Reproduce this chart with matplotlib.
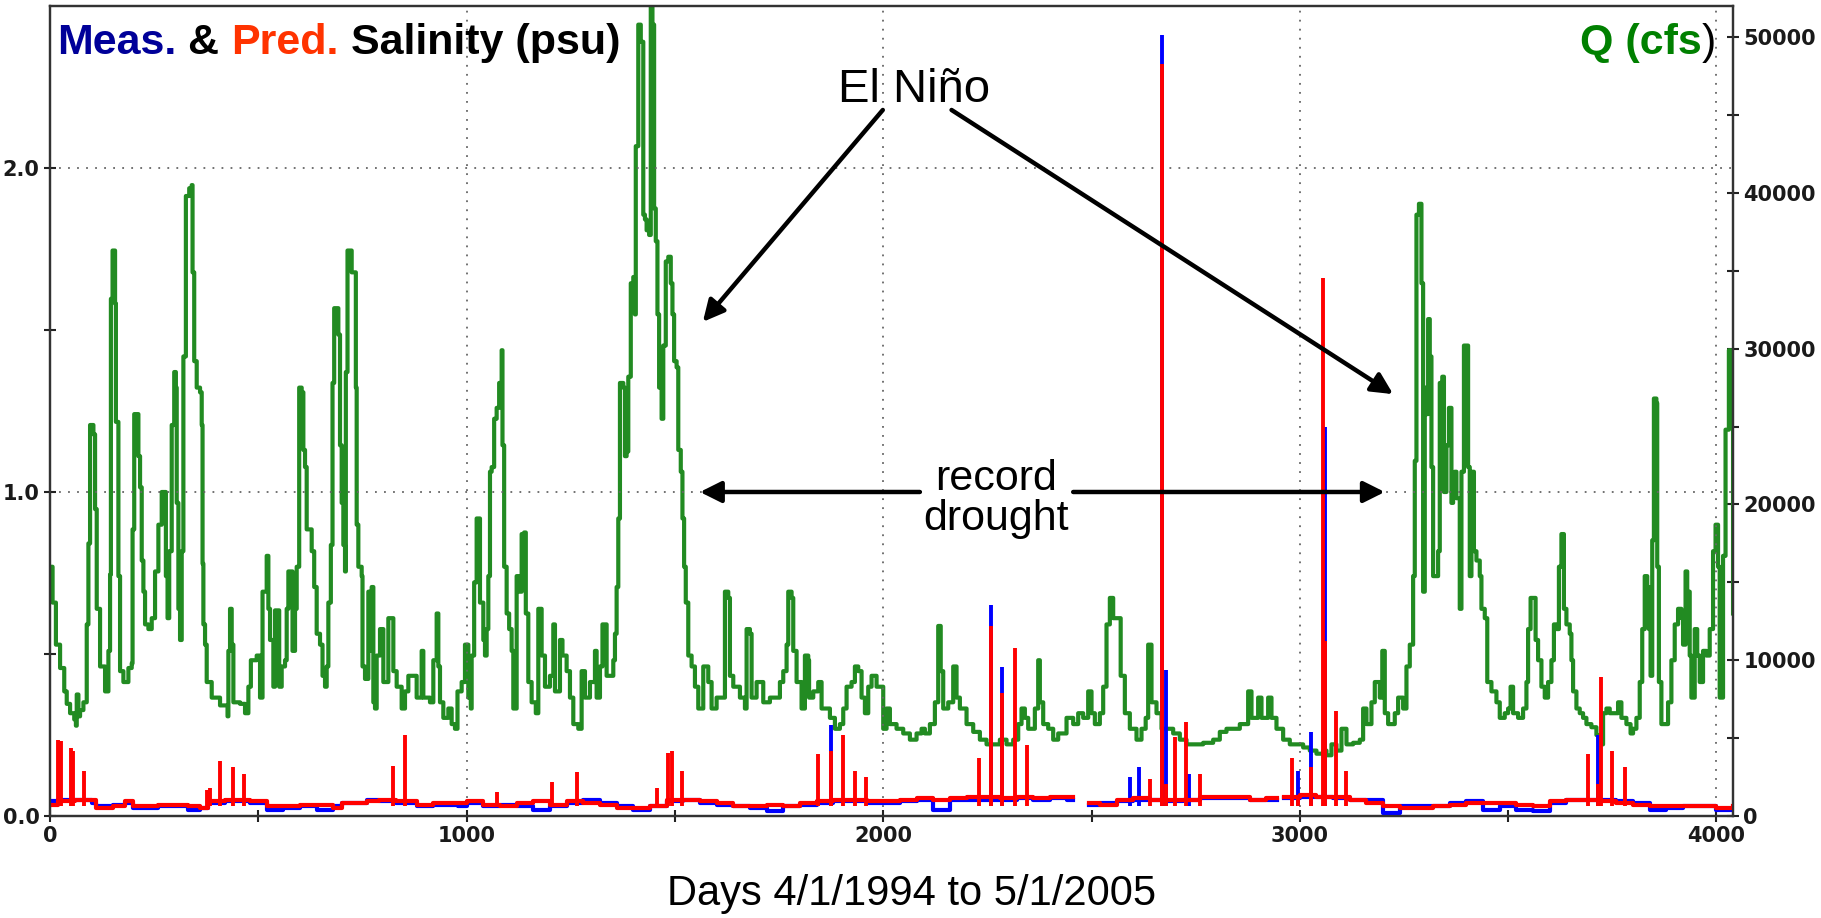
import matplotlib
matplotlib.use("Agg")
import matplotlib.pyplot as plt
import numpy as np
from matplotlib.ticker import MultipleLocator, FixedLocator, FixedFormatter

# River flow Q (day, thousands of cfs)
q_days = [0, 2, 6, 14, 24, 34, 40, 48, 58, 62, 64, 68, 72, 80, 86, 88, 92, 96, 104, 108,
          112, 120, 132, 140, 144, 146, 150, 156, 158, 164, 168, 176, 188, 196, 198, 202, 210, 212, 216, 220,
          224, 228, 236, 244, 252, 260, 268, 276, 278, 282, 286, 292, 298, 302, 304, 308, 312, 316, 320, 326,
          334, 340, 342, 346, 352, 360, 364, 366, 368, 372, 376, 388, 408, 426, 428, 432, 436, 440, 456, 468,
          476, 482, 496, 504, 510, 520, 524, 528, 536, 540, 546, 550, 556, 564, 568, 572, 578, 582, 588, 592,
          598, 604, 608, 612, 616, 628, 634, 640, 648, 654, 660, 664, 668, 674, 678, 682, 688, 692, 696, 700,
          704, 708, 710, 714, 722, 724, 732, 734, 736, 740, 748, 750, 756, 764, 768, 772, 776, 780, 784, 792,
          800, 812, 820, 824, 832, 844, 852, 860, 872, 880, 892, 896, 912, 920, 928, 932, 936, 944, 956, 964,
          972, 978, 988, 996, 1004, 1010, 1012, 1018, 1024, 1030, 1032, 1040, 1044, 1048, 1052, 1056, 1060, 1066, 1072, 1078,
          1084, 1086, 1090, 1096, 1102, 1108, 1112, 1116, 1120, 1126, 1132, 1138, 1142, 1148, 1156, 1166, 1172, 1180, 1188, 1200,
          1208, 1212, 1224, 1230, 1240, 1248, 1256, 1268, 1276, 1284, 1296, 1308, 1312, 1320, 1326, 1336, 1344, 1352, 1356, 1360,
          1364, 1368, 1376, 1380, 1384, 1388, 1394, 1400, 1404, 1406, 1412, 1418, 1424, 1428, 1432, 1438, 1442, 1446, 1450, 1454,
          1458, 1462, 1468, 1472, 1478, 1484, 1490, 1494, 1498, 1504, 1508, 1514, 1518, 1522, 1526, 1532, 1540, 1548, 1556, 1568,
          1580, 1588, 1600, 1608, 1620, 1628, 1632, 1640, 1656, 1668, 1672, 1680, 1684, 1696, 1704, 1712, 1728, 1744, 1752, 1760,
          1768, 1772, 1780, 1784, 1792, 1804, 1812, 1820, 1822, 1832, 1844, 1852, 1860, 1872, 1884, 1896, 1904, 1912, 1924, 1932,
          1940, 1948, 1956, 1964, 1972, 1984, 1992, 2000, 2008, 2016, 2032, 2048, 2064, 2080, 2092, 2100, 2112, 2124, 2132, 2138,
          2144, 2156, 2168, 2176, 2184, 2200, 2216, 2232, 2248, 2264, 2280, 2296, 2312, 2324, 2332, 2340, 2348, 2356, 2364, 2372,
          2376, 2384, 2396, 2408, 2420, 2440, 2456, 2468, 2480, 2492, 2500, 2508, 2520, 2528, 2536, 2544, 2552, 2564, 2570, 2580,
          2592, 2608, 2620, 2630, 2636, 2644, 2656, 2668, 2680, 2696, 2712, 2728, 2744, 2768, 2792, 2808, 2824, 2840, 2856, 2872,
          2876, 2884, 2900, 2908, 2924, 2932, 2944, 2960, 2976, 2992, 3008, 3024, 3040, 3056, 3064, 3076, 3088, 3100, 3112, 3128,
          3144, 3152, 3160, 3172, 3180, 3192, 3198, 3204, 3212, 3220, 3228, 3236, 3248, 3256, 3264, 3272, 3276, 3280, 3286, 3292,
          3296, 3300, 3304, 3308, 3312, 3316, 3320, 3328, 3332, 3336, 3342, 3346, 3352, 3358, 3364, 3368, 3372, 3376, 3384, 3388,
          3394, 3402, 3404, 3408, 3412, 3418, 3424, 3432, 3436, 3444, 3450, 3460, 3472, 3480, 3492, 3500, 3506, 3512, 3524, 3536,
          3544, 3548, 3554, 3560, 3566, 3572, 3580, 3588, 3596, 3604, 3610, 3616, 3622, 3628, 3634, 3640, 3648, 3652, 3656, 3664,
          3672, 3680, 3688, 3700, 3712, 3720, 3728, 3736, 3744, 3756, 3764, 3772, 3784, 3794, 3800, 3808, 3816, 3822, 3828, 3834,
          3838, 3842, 3846, 3850, 3856, 3858, 3862, 3868, 3876, 3884, 3892, 3900, 3908, 3916, 3920, 3926, 3930, 3936, 3940, 3948,
          3954, 3960, 3968, 3976, 3984, 3992, 3998, 4004, 4008, 4012, 4016, 4022, 4030, 4036, 4040]
q_kcfs = [14.7, 16.0, 13.7, 11.0, 9.5, 8.0, 7.2, 6.6, 6.2, 5.8, 7.8, 6.4, 6.8, 7.3, 7.3, 12.3, 17.5, 25.1, 24.5, 19.7,
          13.3, 9.6, 8.0, 10.6, 15.5, 33.2, 36.3, 32.9, 25.3, 15.4, 9.3, 8.6, 9.5, 9.8, 18.4, 25.8, 25.8, 23.1, 21.1, 16.4,
          14.4, 12.3, 12.0, 12.7, 15.7, 18.7, 20.8, 20.8, 15.4, 12.7, 17.0, 25.1, 28.5, 27.5, 20.1, 13.3, 11.3, 17.0, 29.5, 39.8,
          40.3, 40.5, 34.9, 29.2, 27.5, 27.2, 25.1, 16.2, 12.3, 11.0, 8.6, 7.6, 7.1, 6.4, 10.6, 13.3, 11.0, 7.3, 7.2, 6.6,
          8.3, 10.0, 10.3, 7.6, 14.4, 16.7, 13.3, 11.3, 8.3, 13.2, 13.2, 8.3, 9.6, 10.0, 13.3, 15.7, 15.7, 10.6, 13.3, 16.0,
          27.5, 27.2, 23.5, 22.4, 18.4, 17.0, 14.7, 11.7, 11.0, 9.0, 8.3, 9.6, 13.7, 17.4, 27.8, 32.6, 32.6, 30.9, 23.8, 20.1,
          17.4, 15.7, 28.5, 36.3, 36.3, 34.9, 34.9, 27.5, 18.7, 16.0, 15.4, 9.6, 8.8, 14.4, 10.6, 14.7, 7.3, 6.9, 10.3, 12.0,
          8.6, 12.7, 12.7, 9.3, 8.3, 6.9, 8.0, 9.0, 9.0, 7.6, 10.6, 7.6, 7.3, 10.0, 13.0, 9.6, 7.3, 6.3, 6.9, 5.9,
          5.6, 8.0, 8.6, 11.0, 7.6, 6.9, 10.3, 15.0, 19.1, 19.1, 13.7, 11.3, 10.3, 12.0, 15.4, 22.1, 22.4, 25.5, 26.2, 27.8,
          29.9, 23.8, 16.0, 13.0, 12.0, 10.6, 6.9, 6.9, 15.4, 14.4, 18.1, 18.2, 13.0, 8.6, 7.3, 6.6, 13.3, 10.3, 8.3, 9.0,
          12.3, 8.0, 11.3, 10.3, 9.3, 7.6, 5.9, 5.6, 9.3, 7.6, 8.6, 10.6, 7.6, 9.6, 12.3, 9.0, 9.0, 10.0, 11.7, 14.7,
          19.1, 27.8, 27.5, 23.1, 23.4, 28.2, 34.2, 34.6, 32.2, 43.0, 50.8, 49.7, 38.6, 38.3, 37.6, 37.3, 54.0, 50.8, 39.0, 36.9,
          32.2, 27.5, 25.5, 30.2, 35.6, 35.9, 34.2, 32.2, 29.2, 28.8, 23.5, 22.1, 19.1, 16.0, 13.7, 10.3, 9.6, 8.3, 6.9, 9.6,
          8.6, 6.9, 7.6, 7.6, 14.4, 14.0, 9.0, 8.3, 7.6, 6.9, 12.0, 11.7, 7.6, 8.6, 8.6, 7.3, 7.6, 7.6, 8.6, 9.3,
          11.0, 14.4, 14.0, 10.6, 8.6, 6.9, 10.3, 10.0, 7.6, 8.0, 8.6, 6.9, 6.9, 6.3, 5.6, 5.9, 6.9, 8.3, 8.6, 9.6,
          9.3, 7.6, 6.6, 8.3, 9.0, 8.3, 8.3, 5.6, 6.9, 5.9, 5.6, 5.3, 4.9, 5.3, 5.6, 5.3, 5.9, 7.3, 12.2, 9.3,
          6.9, 7.3, 9.6, 7.6, 6.9, 5.9, 5.4, 4.9, 4.6, 4.6, 4.9, 4.6, 4.9, 5.9, 6.9, 6.3, 5.6, 5.6, 6.9, 10.0,
          7.3, 5.9, 5.6, 4.9, 5.3, 6.3, 5.9, 6.6, 6.3, 8.0, 6.6, 5.9, 6.6, 8.3, 12.3, 14.0, 12.7, 12.7, 9.0, 6.6,
          5.6, 4.9, 5.6, 6.3, 11.0, 7.3, 6.6, 5.6, 5.6, 5.3, 4.9, 4.6, 4.6, 4.7, 4.9, 5.4, 5.6, 5.6, 5.9, 5.9,
          8.0, 6.3, 7.6, 6.3, 7.6, 6.3, 5.6, 4.9, 4.6, 4.6, 4.4, 4.2, 4.0, 4.2, 3.9, 4.6, 4.2, 5.6, 4.6, 4.7,
          4.9, 6.9, 5.9, 7.3, 8.6, 7.6, 10.6, 6.6, 5.9, 5.9, 6.6, 7.6, 6.9, 9.6, 11.0, 15.4, 22.8, 38.6, 39.3, 34.2,
          14.4, 27.5, 25.8, 31.9, 29.5, 22.4, 15.4, 15.4, 17.0, 27.8, 28.2, 20.8, 23.8, 26.2, 20.1, 21.1, 22.1, 20.4, 13.3, 22.1,
          30.2, 30.2, 22.4, 15.4, 22.1, 17.0, 16.4, 15.4, 13.3, 12.7, 8.6, 8.0, 7.3, 6.3, 6.6, 6.9, 8.3, 6.6, 6.3, 6.9,
          8.6, 12.0, 14.0, 14.0, 11.3, 10.0, 8.3, 7.6, 8.6, 10.0, 12.3, 12.0, 16.0, 18.1, 13.3, 12.3, 11.7, 10.0, 8.0, 6.9,
          6.6, 6.3, 5.9, 5.7, 5.2, 4.6, 6.6, 6.9, 6.6, 6.6, 7.3, 6.3, 5.9, 5.3, 5.6, 6.3, 8.6, 12.0, 15.4, 14.7,
          12.0, 9.0, 17.7, 26.8, 26.5, 16.0, 8.6, 5.9, 5.9, 7.3, 10.0, 12.3, 13.3, 12.7, 11.0, 15.7, 14.4, 10.3, 7.6, 12.0,
          10.3, 8.6, 10.6, 10.3, 12.0, 17.0, 18.7, 16.0, 7.6, 7.6, 16.7, 24.8, 29.9, 25.8, 13.0]

# Salinity background level (psu), measured and predicted; nan = no data
base_days = [0, 20, 60, 100, 110, 150, 180, 200, 260, 330,
             360, 380, 420, 480, 520, 560, 600, 640, 680, 700,
             760, 790, 830, 880, 920, 980, 1000, 1040, 1080, 1120,
             1160, 1200, 1240, 1280, 1320, 1360, 1400, 1440, 1480, 1520,
             1560, 1600, 1640, 1680, 1720, 1760, 1800, 1840, 1880, 1920,
             1960, 2000, 2040, 2080, 2120, 2160, 2200, 2240, 2280, 2320,
             2360, 2400, 2440, 2456, 2495, 2520, 2560, 2600, 2640, 2680,
             2720, 2760, 2800, 2840, 2880, 2920, 2946, 2963, 3000, 3040,
             3080, 3120, 3160, 3200, 3240, 3280, 3320, 3360, 3400, 3440,
             3480, 3520, 3560, 3600, 3640, 3680, 3720, 3760, 3800, 3840,
             3880, 3920, 3960, 4000, 4040]
pred_base = [0.035, 0.045, 0.05, 0.05, 0.025, 0.03, 0.045, 0.03, 0.035, 0.03,
             0.025, 0.045, 0.05, 0.045, 0.03, 0.03, 0.035, 0.035, 0.025, 0.04,
             0.045, 0.05, 0.045, 0.035, 0.04, 0.04, 0.045, 0.035, 0.03, 0.04,
             0.045, 0.035, 0.045, 0.04, 0.035, 0.025, 0.025, 0.03, 0.05, 0.05,
             0.045, 0.04, 0.03, 0.03, 0.035, 0.03, 0.04, 0.045, 0.05, 0.05,
             0.045, 0.045, 0.05, 0.055, 0.05, 0.055, 0.06, 0.06, 0.055, 0.06,
             0.055, 0.06, 0.06, np.nan, 0.04, 0.035, 0.05, 0.055, 0.05, 0.05,
             0.05, 0.06, 0.06, 0.06, 0.05, 0.055, np.nan, 0.06, 0.065, 0.06,
             0.06, 0.05, 0.04, 0.03, 0.025, 0.025, 0.03, 0.035, 0.04, 0.04,
             0.04, 0.035, 0.03, 0.045, 0.05, 0.05, 0.045, 0.04, 0.035, 0.03,
             0.03, 0.03, 0.03, 0.025, 0.03]
meas_base = [0.045, 0.05, 0.05, 0.04, 0.03, 0.035, 0.04, 0.025, 0.03, 0.02,
             0.025, 0.04, 0.045, 0.04, 0.02, 0.025, 0.03, 0.02, 0.03, 0.04,
             0.05, 0.045, 0.04, 0.03, 0.035, 0.03, 0.04, 0.03, 0.035, 0.03,
             0.02, 0.03, 0.04, 0.05, 0.04, 0.03, 0.02, 0.03, 0.045, 0.05,
             0.04, 0.035, 0.03, 0.025, 0.015, 0.03, 0.035, 0.04, 0.045, 0.045,
             0.04, 0.04, 0.045, 0.05, 0.02, 0.05, 0.05, 0.05, 0.05, 0.055,
             0.05, 0.055, 0.05, np.nan, 0.035, 0.04, 0.045, 0.05, 0.05, 0.045,
             0.05, 0.055, 0.055, 0.055, 0.05, 0.05, np.nan, 0.055, 0.06, 0.06,
             0.055, 0.05, 0.05, 0.01, 0.03, 0.03, 0.03, 0.04, 0.045, 0.02,
             0.03, 0.02, 0.015, 0.04, 0.05, 0.05, 0.05, 0.045, 0.04, 0.02,
             0.025, 0.03, 0.03, 0.02, 0.025]

# Short salinity spikes (psu)
pred_spike_days = [20, 26, 50, 56, 82, 376, 384, 408, 438, 466,
                   824, 852, 1072, 1204, 1264, 1456, 1484, 1492, 1518, 1844,
                   1874, 1904, 1932, 1958, 2230, 2258, 2286, 2316, 2344, 2640,
                   2670, 2678, 2700, 2728, 2760, 2982, 2996, 3028, 3056, 3060,
                   3086, 3112, 3692, 3716, 3722, 3750, 3780]
pred_spike_psu = [0.235, 0.23, 0.21, 0.20, 0.14, 0.08, 0.085, 0.17, 0.15, 0.13,
                  0.155, 0.25, 0.075, 0.105, 0.135, 0.085, 0.195, 0.20, 0.14, 0.19,
                  0.20, 0.25, 0.14, 0.12, 0.18, 0.585, 0.38, 0.52, 0.22, 0.115,
                  2.32, 0.10, 0.245, 0.29, 0.13, 0.18, 0.06, 0.15, 1.66, 0.54,
                  0.325, 0.14, 0.19, 0.10, 0.43, 0.20, 0.15]
meas_spike_days = [1874, 2258, 2286, 2592, 2614, 2670, 2678, 2734, 2996, 3028, 3060, 3716]
meas_spike_psu = [0.28, 0.65, 0.46, 0.12, 0.15, 2.41, 0.45, 0.13, 0.14, 0.26, 1.2, 0.25]

GREEN = '#228b22'
BLUE = '#0000ff'
RED = '#ff0000'
TXT = '#1a1a1a'

fig = plt.figure(figsize=(18.21, 9.18), dpi=100)
ax = fig.add_axes([0.0275, 0.1111, 0.9242, 0.8824])
ax2 = ax.twinx()
ax.set_zorder(ax2.get_zorder() + 1)
ax.patch.set_visible(False)

# flow on the right axis
ax2.plot(q_days, np.array(q_kcfs) * 1000, drawstyle='steps-post', color=GREEN, lw=3.0)

# salinity on the left axis: measured first, predicted on top
ax.plot(base_days, meas_base, drawstyle='steps-post', color=BLUE, lw=3.0)
ax.vlines(meas_spike_days, 0.03, meas_spike_psu, color=BLUE, lw=2.8)
ax.plot(base_days, pred_base, drawstyle='steps-post', color=RED, lw=3.0)
ax.vlines(pred_spike_days, 0.03, pred_spike_psu, color=RED, lw=2.8)

ax.set_xlim(0, 4040)
ax.set_ylim(0, 2.5)
ax2.set_ylim(0, 52000)

ax.xaxis.set_major_locator(MultipleLocator(1000))
ax.xaxis.set_minor_locator(MultipleLocator(500))
ax.yaxis.set_major_locator(FixedLocator([0, 1, 2]))
ax.yaxis.set_major_formatter(FixedFormatter(['0.0', '1.0', '2.0']))
ax.yaxis.set_minor_locator(FixedLocator([0.5, 1.5]))
ax2.yaxis.set_major_locator(MultipleLocator(10000))
ax2.yaxis.set_minor_locator(MultipleLocator(5000))

for a in (ax, ax2):
    a.tick_params(axis='both', which='both', direction='inout', length=9, width=1.5,
                  labelsize=15, labelcolor=TXT, pad=3, color='#222222')
    for s in a.spines.values():
        s.set_linewidth(1.6)
        s.set_color('#333333')
    for lbl in a.get_xticklabels() + a.get_yticklabels():
        lbl.set_fontweight('bold')

ax.grid(True, which='major', color='#666666', linestyle=(0, (1, 4)), linewidth=1.3)

# header texts
tfont = dict(family='Liberation Sans', weight='bold', size=31)
t1 = ax.text(0.004, 0.941, 'Meas.', color='#000099', transform=ax.transAxes,
             va='baseline', **tfont)
t2 = ax.annotate(' & ', xy=(1, 0), xycoords=t1, va='bottom', color='black', **tfont)
t3 = ax.annotate('Pred.', xy=(1, 0), xycoords=t2, va='bottom', color='#ff3300', **tfont)
ax.annotate(' Salinity (psu)', xy=(1, 0), xycoords=t3, va='bottom', color='black', **tfont)

q2 = ax.text(0.990, 0.941, ')', color='black', ha='right', va='baseline', transform=ax.transAxes,
             family='Liberation Sans', size=31)
ax.annotate('Q (cfs', xy=(0, 0), xycoords=q2, ha='right', va='bottom', color='#008000', **tfont)

# annotations
afont = dict(family='Liberation Sans', color='black')
arrow = dict(arrowstyle='-|>', lw=3.2, color='black', mutation_scale=32, shrinkA=0, shrinkB=0)
ax.text(2073, 2.204, 'El Niño', ha='center', va='baseline', size=34, **afont)
ax.annotate('', xy=(1567, 1.525), xytext=(1999, 2.179), arrowprops=arrow)
ax.annotate('', xy=(3224, 1.302), xytext=(2164, 2.179), arrowprops=arrow)

ax.text(2271, 0.977, 'record\ndrought', ha='center', va='center', multialignment='center',
        size=31, linespacing=1.0, bbox=dict(facecolor='white', edgecolor='none', pad=2), **afont)
ax.annotate('', xy=(1560, 1.0), xytext=(2088, 1.0), arrowprops=arrow)
ax.annotate('', xy=(3204, 1.0), xytext=(2456, 1.0), arrowprops=arrow)

fig.text(912 / 1821, 1 - 894 / 918, 'Days 4/1/1994 to 5/1/2005', ha='center', va='center',
         size=30, family='Liberation Sans', color='black')

fig.savefig('out.png', dpi=100)
